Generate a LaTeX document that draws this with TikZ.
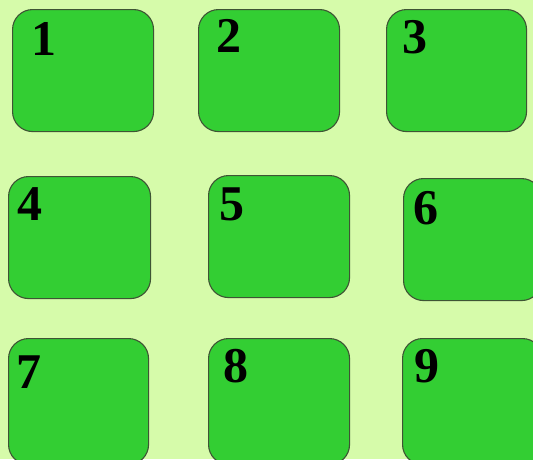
\documentclass[tikz,border=0pt]{standalone}
\usepackage{fontspec}
\setmainfont{Liberation Serif}
\definecolor{bg}{RGB}{214,251,170}
\definecolor{boxfill}{RGB}{51,206,51}
\definecolor{boxline}{RGB}{62,84,52}
\begin{document}
\begin{tikzpicture}[x=1pt,y=-1pt,
 tile/.style={draw=boxline, line width=1.1pt, fill=boxfill, rounded corners=20pt, anchor=north west, inner sep=0pt, minimum width=141pt, minimum height=122pt},
 num/.style={anchor=base west, inner sep=0pt, font=\fontsize{50}{50}\selectfont\bfseries}]
\path[use as bounding box] (0,0) rectangle (533,459);
\clip (0,0) rectangle (533,459);
\fill[bg] (0,0) rectangle (533,459);
\node[tile] (b1) at (12,9) {};
\node[tile] (b2) at (198,9) {};
\node[tile, minimum width=140pt] (b3) at (386,9) {};
\node[tile, minimum width=142pt] (b4) at (8,176) {};
\node[tile] (b5) at (208,175) {};
\node[tile, minimum width=138pt] (b6) at (403,178) {};
\node[tile, minimum width=140pt, minimum height=126pt] (b7) at (8,338) {};
\node[tile, minimum height=126pt] (b8) at (208,338) {};
\node[tile, minimum width=140pt, minimum height=126pt] (b9) at (402,338) {};
\node[num] (n1) at (31,55) {1};
\node[num] (n2) at (216,52) {2};
\node[num] (n3) at (402,53) {3};
\node[num] (n4) at (17,220) {4};
\node[num] (n5) at (219,220) {5};
\node[num] (n6) at (413,224) {6};
\node[num] (n7) at (16,388) {7};
\node[num] (n8) at (223,382) {8};
\node[num] (n9) at (414,382) {9};
\end{tikzpicture}
\end{document}
